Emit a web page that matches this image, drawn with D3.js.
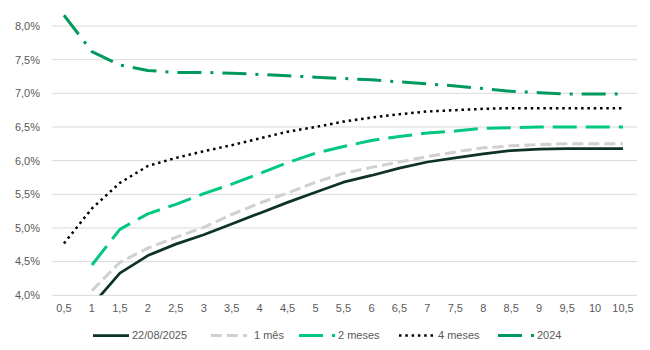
<!DOCTYPE html>
<html><head><meta charset="utf-8">
<script src="https://cdn.jsdelivr.net/npm/d3@7"></script>
<style>
html,body{margin:0;padding:0;background:#fff;}
svg text{font-family:"Liberation Sans",Arial,sans-serif;font-size:11px;fill:#595959;}
</style></head>
<body><svg id="c" width="650" height="350"></svg>
<script>
const categories = ["0,5","1","1,5","2","2,5","3","3,5","4","4,5","5","5,5","6","6,5","7","7,5","8","8,5","9","9,5","10","10,5"];
const yTicks = [4.0,4.5,5.0,5.5,6.0,6.5,7.0,7.5,8.0];
const seriesNames = ["22/08/2025","1 mês","2 meses","4 meses","2024"];
const s20250822 = [null,3.85,4.33,4.59,4.76,4.90,5.06,5.22,5.38,5.53,5.68,5.78,5.89,5.98,6.04,6.10,6.15,6.17,6.18,6.18,6.18];
const s1mes = [null,4.07,4.49,4.70,4.86,5.01,5.20,5.37,5.52,5.68,5.81,5.90,5.98,6.06,6.13,6.19,6.22,6.24,6.25,6.25,6.25];
const s2meses = [null,4.45,4.98,5.21,5.35,5.51,5.65,5.81,5.97,6.11,6.21,6.30,6.36,6.41,6.44,6.48,6.49,6.50,6.50,6.50,6.50];
const s4meses = [4.77,5.29,5.67,5.92,6.04,6.14,6.23,6.33,6.43,6.50,6.58,6.64,6.69,6.73,6.75,6.77,6.78,6.78,6.78,6.78,6.78];
const s2024 = [8.16,7.62,7.42,7.34,7.31,7.31,7.30,7.28,7.26,7.24,7.22,7.20,7.17,7.14,7.11,7.07,7.03,7.01,6.99,6.99,6.99];

const styles = [
  {color:"#0c3323", width:2.75, dash:null, cap:"butt"},
  {color:"#d0d0d0", width:3, dash:"11,5", cap:"butt"},
  {color:"#00c87f", width:3, dash:"24,9", cap:"butt"},
  {color:"#000000", width:2.5, dash:"2.5,3.8", cap:"butt"},
  {color:"#009a5e", width:3, dash:"24,9,3,9", cap:"butt"}
];
const allSeries = [s20250822, s1mes, s2meses, s4meses, s2024];

const svg = d3.select("#c");
const L = 50, R = 637, T = 26, B = 295.3;
const x = d3.scaleBand().domain(categories).range([L,R]);
const y = d3.scaleLinear().domain([4,8]).range([B,T]);
const fmt = v => d3.format(".1f")(v).replace(".", ",") + "%";

// grid
svg.append("g").selectAll("line").data(yTicks).join("line")
  .attr("x1", L+2).attr("x2", R).attr("y1", d=>y(d)).attr("y2", d=>y(d))
  .attr("stroke", "#d9d9d9").attr("stroke-width", 1);

// y labels
svg.append("g").selectAll("text").data(yTicks).join("text")
  .attr("x", 40).attr("y", d=>y(d)).attr("dy","0.35em").attr("text-anchor","end")
  .text(fmt);

// x labels
svg.append("g").selectAll("text").data(categories).join("text")
  .attr("x", d=>x(d)+x.bandwidth()/2).attr("y", 312).attr("text-anchor","middle")
  .text(d=>d);

svg.append("clipPath").attr("id","clip").append("rect")
  .attr("x", 0).attr("y", 0).attr("width", 650).attr("height", B);

const line = d3.line()
  .defined(d => d.v != null)
  .x(d => x(d.c) + x.bandwidth()/2)
  .y(d => y(d.v));

const lines = svg.append("g").attr("clip-path","url(#clip)");
allSeries.forEach((s,i) => {
  const st = styles[i];
  lines.append("path")
    .datum(s.map((v,j)=>({c:categories[j], v})))
    .attr("d", line)
    .attr("fill","none")
    .attr("stroke", st.color)
    .attr("stroke-width", st.width)
    .attr("stroke-dasharray", st.dash)
    .attr("stroke-linecap", st.cap)
    .attr("stroke-linejoin","round");
});

// legend
const legX = [93, 211, 299, 399, 498];
const lg = svg.append("g");
seriesNames.forEach((n,i) => {
  const st = styles[i];
  lg.append("line").attr("x1", legX[i]).attr("x2", legX[i]+36)
    .attr("y1", 335.5).attr("y2", 335.5)
    .attr("stroke", st.color).attr("stroke-width", st.width)
    .attr("stroke-dasharray", st.dash);
  lg.append("text").attr("x", legX[i]+39 + (i===1?4:0)).attr("y", 335.5).attr("dy","0.35em").text(n);
});
</script></body></html>
